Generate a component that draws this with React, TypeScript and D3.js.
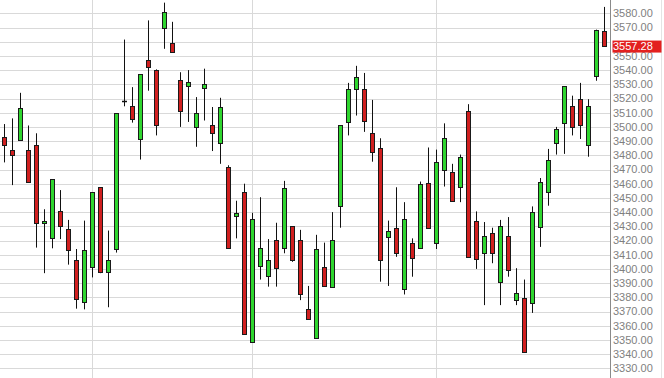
import React from "react";
import * as d3 from "d3";

const opens = [3493,3484,3491,3484,3487,3432,3422,3441,3428,3406,3376.5,3401,3457.5,3398,3414,3518.5,3515,3491.5,3547,3540,3570,3559,3533,3528.5,3500,3527.5,3501,3488.5,3471.5,3437.5,3454.5,3348.5,3402,3395,3420.5,3414.5,3430,3420.5,3371.5,3351,3401,3387,3444,3503.5,3527,3527,3496,3485,3422.5,3428.5,3385.5,3418.5,3414.5,3460.5,3418.5,3470,3468.5,3457.5,3511.5,3434,3411,3425,3390.5,3423.5,3378,3379.5,3376,3429.5,3454,3488.5,3502.5,3514.5,3520,3487.5,3535.5,3567.5];
const highs = [3502,3506,3524,3501,3495.5,3442,3463,3455.5,3434.5,3414,3434,3454,3457.5,3427,3509.5,3561.5,3528,3537,3575,3540.5,3587.5,3574,3538.5,3540,3521,3541,3514,3520.5,3473,3448,3460,3439.5,3450.5,3421,3432.5,3462,3430,3427.5,3388,3424,3418.5,3440,3501,3531,3543,3538,3519,3492,3434,3457.5,3447,3421.5,3461.5,3485.5,3484,3502.5,3474,3480.5,3516,3440.5,3433,3429,3434.5,3436.5,3400.5,3392.5,3444,3464,3484.5,3500,3528.5,3522,3531,3519.5,3568.5,3584.5];
const lows = [3475,3459,3491,3461,3415,3397,3414.5,3421,3403,3372,3371.5,3394,3397,3373,3411.5,3514.5,3503,3477,3525.5,3494,3555,3552.5,3500,3503.5,3486,3504.5,3483,3474,3414.5,3421.5,3354,3348.5,3392.5,3387.5,3387.5,3411,3405,3378,3365,3351,3388,3387,3429,3494,3508,3496.5,3475.5,3391,3388,3408.5,3382,3394.5,3414.5,3428.5,3414,3458,3447.5,3447,3408.5,3400,3374.5,3404,3374.5,3394.5,3374.5,3341.5,3369,3415.5,3444.5,3480.5,3481,3494,3491.5,3479,3532.5,3557.28];
const closes = [3487.5,3480,3513,3461,3432,3434,3463,3430.5,3413,3378.5,3413,3454,3398,3406,3509.5,3518.5,3505.5,3537,3542.5,3501,3581,3552.5,3511.5,3531.5,3509.5,3530.5,3496,3514,3414.5,3439.5,3354,3435,3414.5,3406,3400.5,3457,3406,3382,3365,3414,3388,3420.5,3501,3527,3535,3504,3482,3406.5,3426.5,3411,3435,3408,3460,3428.5,3475,3492.5,3447.5,3478.5,3408.5,3407,3423.5,3411,3430.5,3399.5,3383,3341.5,3440,3461.5,3477,3498.5,3528.5,3500,3501,3515,3568.5,3557.28];
const yTicks = d3.range(3330, 3581, 10);
const vGridIdx = [11, 31, 54];
const lastPrice = 3557.28;

const W = 664, H = 378;

export default function App() {
  const n = opens.length;
  const x = d3.scaleLinear().domain([0, n - 1]).range([4.5, 4.5 + 8 * (n - 1)]);
  const y = d3.scaleLinear().domain([3330, 3580]).range([368.3, 13.3]);
  const axisX = 610.5;
  const fmt = d3.format(".2f");
  const font = "'Liberation Sans', Arial, sans-serif";
  const boxTop = y(lastPrice) - 5;
  const boxBot = boxTop + 12;
  // labels hidden behind the last-price box in the reference are not drawn
  const visibleTicks = yTicks.filter((t) => {
    const ty = y(t) + 1;
    return ty + 4 < boxTop || ty - 4 > boxBot;
  });
  return (
    <svg width={W} height={H} style={{ position: "absolute", left: 0, top: 0, background: "#fff" }}>
      <rect x={0} y={0} width={W} height={H} fill="#fff" />
      <g>
        {yTicks.map((t) => (
          <line key={t} x1={0} x2={axisX} y1={Math.round(y(t)) + 0.5} y2={Math.round(y(t)) + 0.5} stroke="#d9d9d9" strokeWidth={1} />
        ))}
        {vGridIdx.map((i) => (
          <line key={i} x1={x(i)} x2={x(i)} y1={0} y2={H} stroke="#d9d9d9" strokeWidth={1} />
        ))}
      </g>
      <line x1={axisX} x2={axisX} y1={0} y2={H} stroke="#8a8a8a" strokeWidth={1} />
      <line x1={661.5} x2={661.5} y1={0} y2={H} stroke="#e4e4e4" strokeWidth={1} />
      <g>
        {opens.map((o, i) => {
          const c = closes[i];
          const cx = x(i);
          const up = c > o;
          const doji = c === o;
          const top = Math.round(y(Math.max(o, c)));
          const bot = Math.round(y(Math.min(o, c)));
          return (
            <g key={i}>
              <line x1={cx} x2={cx} y1={y(highs[i])} y2={y(lows[i])} stroke="#111" strokeWidth={1} />
              {doji ? (
                <line x1={cx - 2.5} x2={cx + 2.5} y1={top + 0.5} y2={top + 0.5} stroke="#111" strokeWidth={1.5} />
              ) : (
                <rect x={cx - 2} y={top + 0.5} width={4} height={Math.max(bot - top, 1)} fill={up ? "#2fd62f" : "#d01f1f"} stroke="#1a1a1a" strokeWidth={1} />
              )}
            </g>
          );
        })}
      </g>
      <g fontFamily={font} fontSize={11} fill="#7f7f7f">
        {visibleTicks.map((t) => (
          <text key={t} x={613} y={y(t) + 1} dominantBaseline="middle">{fmt(t)}</text>
        ))}
      </g>
      <rect x={612.5} y={boxTop} width={49} height={12} fill="#e3201f" />
      <text x={613} y={y(lastPrice) + 1.5} dominantBaseline="middle" fontFamily={font} fontSize={11} fill="#fff">{fmt(lastPrice)}</text>
    </svg>
  );
}
